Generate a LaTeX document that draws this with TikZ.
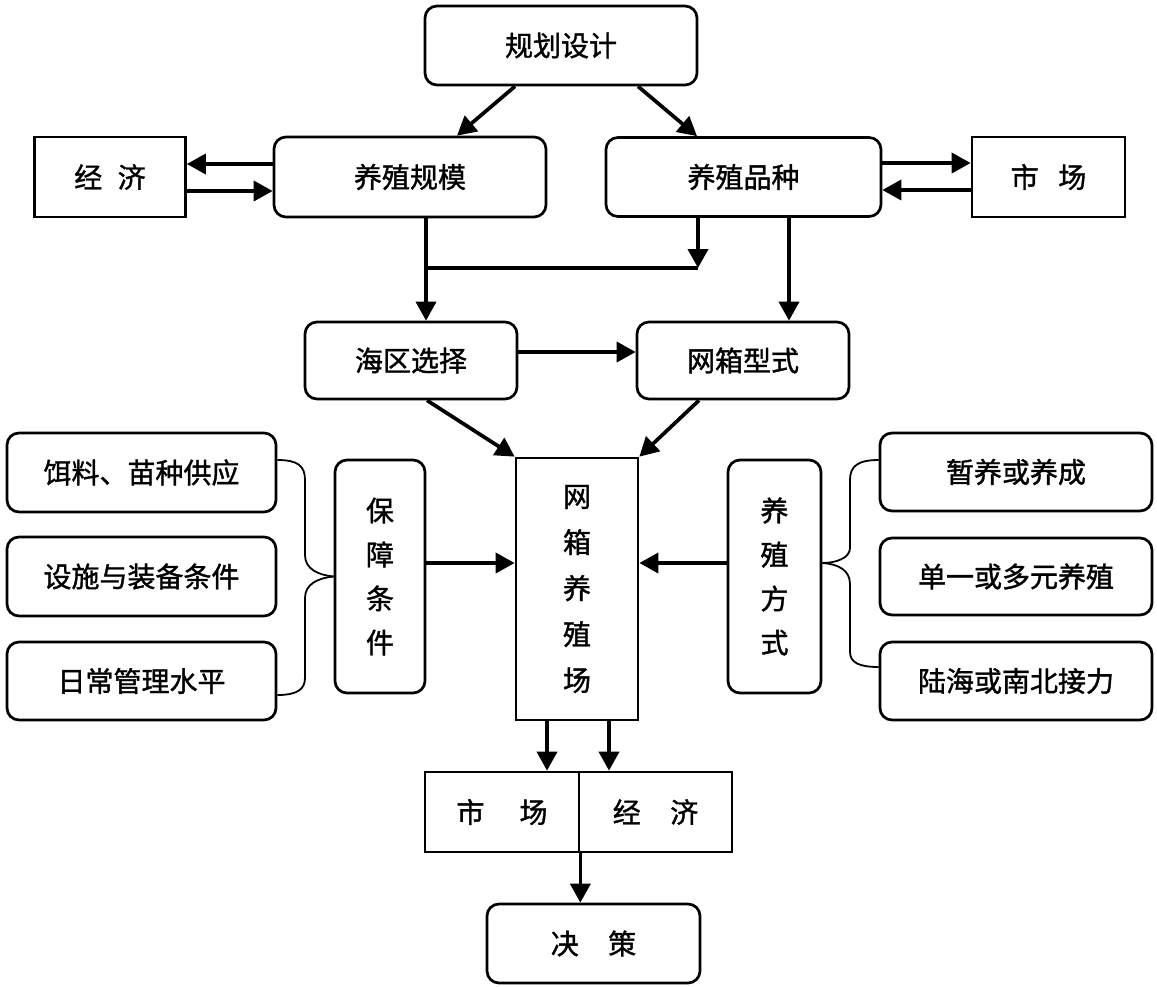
\documentclass[tikz,border=0pt]{standalone}
\usepackage{fontspec}
\newfontfamily\cjk[FakeBold=1.3]{Noto Sans CJK SC}
\usetikzlibrary{arrows.meta}
\begin{document}
\begin{tikzpicture}[x=1pt,y=-1pt,
  base/.style={draw, line width=2.7pt, inner sep=0pt, align=center,
    font=\cjk\fontsize{28}{44}\selectfont},
  rbox/.style={base, rounded corners=12pt},
  sbox/.style={base},
  arr/.style={line width=3.7pt, -{Triangle[length=19pt,width=20pt]}},
  plainline/.style={line width=3.7pt},
  brace/.style={line width=1.8pt}
]
\useasboundingbox (0,0) rectangle (1157,986);

% top row
\node[rbox, minimum width=272pt, minimum height=79pt] (plan) at (561,45.5) {规划设计};
\node[sbox, minimum width=151pt, minimum height=80pt] (jjL) at (110,177) {经\hspace{0.55em}济};
\node[rbox, minimum width=272pt, minimum height=80pt] (scale) at (410,177) {养殖规模};
\node[rbox, minimum width=275pt, minimum height=79pt] (breed) at (743.5,177) {养殖品种};
\node[sbox, minimum width=153pt, minimum height=80pt] (scR) at (1048.5,177) {市\hspace{0.7em}场};

% middle row
\node[rbox, minimum width=212pt, minimum height=77pt] (sea) at (411,360.5) {海区选择};
\node[rbox, minimum width=212pt, minimum height=77pt] (cage) at (743,360.5) {网箱型式};

% center
\node[sbox, minimum width=122pt, minimum height=262pt, font=\cjk\fontsize{28}{46}\selectfont] (farm) at (577,589) {网\\箱\\养\\殖\\场};
\node[rbox, minimum width=90pt, minimum height=233pt] (guar) at (380,576.5) {保\\障\\条\\件};
\node[rbox, minimum width=93pt, minimum height=233pt] (mode) at (774.5,576.5) {养\\殖\\方\\式};

% left column
\node[rbox, minimum width=269pt, minimum height=79pt] (L1) at (141.5,472.5) {饵料、苗种供应};
\node[rbox, minimum width=269pt, minimum height=79pt] (L2) at (141.5,576.5) {设施与装备条件};
\node[rbox, minimum width=269pt, minimum height=78pt] (L3) at (141.5,681) {日常管理水平};

% right column
\node[rbox, minimum width=272pt, minimum height=78pt] (R1) at (1016,472) {暂养或养成};
\node[rbox, minimum width=272pt, minimum height=77pt] (R2) at (1016,576.5) {单一或多元养殖};
\node[rbox, minimum width=272pt, minimum height=78pt] (R3) at (1016,681) {陆海或南北接力};

% bottom
\node[sbox, minimum width=154pt, minimum height=80pt] (me1) at (502,812) {市\hspace{1.25em}场};
\node[sbox, minimum width=153pt, minimum height=80pt] (me2) at (655.5,812) {经\hspace{1.05em}济};
\node[rbox, minimum width=213pt, minimum height=79pt] (dec) at (593.5,943.5) {决\hspace{1.05em}策};

% arrows top
\draw[arr] ([xshift=-46pt]plan.south) -- ([xshift=47pt]scale.north);
\draw[arr] ([xshift=77pt]plan.south) -- ([xshift=-46.5pt]breed.north);

\draw[arr] ([yshift=13pt]scale.west) -- ([yshift=13pt]jjL.east);
\draw[arr] ([yshift=-14pt]jjL.east) -- ([yshift=-14pt]scale.west);
\draw[arr] ([yshift=14pt]breed.east) -- ([yshift=14pt]scR.west);
\draw[arr] ([yshift=-13pt]scR.west) -- ([yshift=-13pt]breed.east);

% junction
\coordinate (j1) at (426,268);
\coordinate (j2) at (698,268);
\draw[plainline] (j1) -- (j2);
\draw[arr] (breed.south -| j2) -- (j2);
\draw[arr] (scale.south -| j1) -- (sea.north -| j1);
\draw[arr] ([xshift=45.5pt]breed.south) -- ([xshift=45.5pt]breed.south |- cage.north);

\draw[arr] ([yshift=8.5pt]sea.east) -- ([yshift=8.5pt]sea.east -| cage.west);
\draw[arr] ([xshift=16pt]sea.south) -- (farm.north west);
\draw[arr] ([xshift=-44pt]cage.south) -- (farm.north east);

\draw[arr] ([yshift=13.5pt]guar.east) -- ([yshift=13.5pt]guar.east -| farm.west);
\draw[arr] ([yshift=13.5pt]mode.west) -- ([yshift=13.5pt]mode.west -| farm.east);

\draw[arr] ([xshift=-30pt]farm.south) -- ([xshift=-30pt]farm.south |- me1.north);
\draw[arr] ([xshift=32pt]farm.south) -- ([xshift=32pt]farm.south |- me2.north);
\draw[arr] (me1.south east) -- (me1.south east |- dec.north);

% brackets left
\draw[brace] ([yshift=12.5pt]L1.east) .. controls (298,460) and (305,466) .. (305,480)
  -- (305,555) .. controls (305,569) and (318,575) .. (guar.west);
\draw[brace] (guar.west) .. controls (318,578) and (305,584) .. (305,598)
  -- (305,678) .. controls (305,690) and (296,695) .. ([yshift=-14pt]L3.east);

% brackets right
\draw[brace] ([yshift=12pt]R1.west) .. controls (858,460) and (850,466) .. (850,480)
  -- (850,548) .. controls (850,558) and (836,563) .. ([yshift=13.5pt]mode.east);
\draw[brace] ([yshift=13.5pt]mode.east) .. controls (838,564) and (850,570) .. (850,584)
  -- (850,652) .. controls (850,663) and (860,667) .. ([yshift=14pt]R3.west);
\end{tikzpicture}
\end{document}
